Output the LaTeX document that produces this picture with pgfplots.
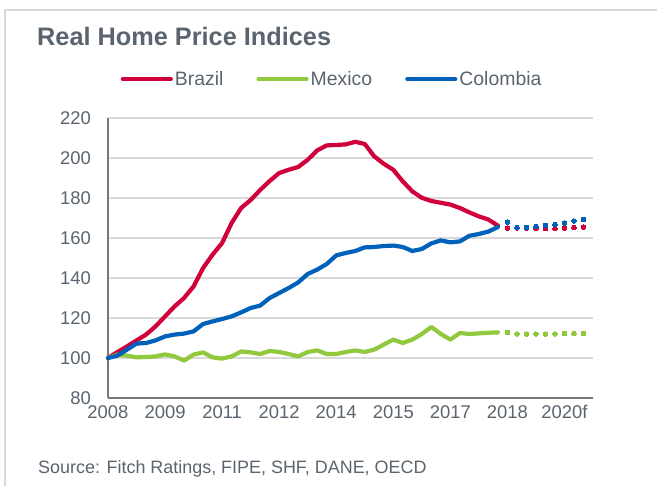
\documentclass[border=0pt]{standalone}
\usepackage{fontspec}
\setmainfont{Liberation Sans}
\usepackage{pgfplots}
\pgfplotsset{compat=1.18}
\definecolor{bred}{RGB}{208,0,58}
\definecolor{mgreen}{RGB}{146,200,62}
\definecolor{cblue}{RGB}{0,97,186}
\definecolor{txt}{RGB}{90,100,110}
\definecolor{gridc}{RGB}{217,217,217}
\definecolor{axc}{RGB}{120,120,120}
\begin{document}
\begin{tikzpicture}[x=1bp,y=1bp]
\path[use as bounding box] (-108,-88) rectangle (549,398);
\draw[gridc, line width=1.5bp] (-103,-88) -- (-103,388) -- (549,388);
\node[anchor=base west, text=txt, font=\fontsize{25.4}{29}\selectfont\bfseries, inner sep=0pt] at (-71,352) {Real Home Price Indices};
\node[anchor=base west, text=txt, font=\fontsize{18}{20}\selectfont, inner sep=0pt] at (-70,-76) {Source: Fitch Ratings, FIPE, SHF, DANE, OECD};
\begin{axis}[
  at={(0,0)}, anchor=south west,
  width=485bp, height=280bp, scale only axis,
  xmin=0, xmax=51, ymin=80, ymax=220,
  xtick={0,6,...,48},
  xticklabels={2008,2009,2011,2012,2014,2015,2017,2018,2020f},
  ytick={80,100,...,220},
  ymajorgrids, grid style={gridc, line width=1.3bp},
  axis x line*=bottom, axis y line*=left,
  x axis line style={-, draw=axc, line width=1.2bp},
  y axis line style={-, draw=axc, line width=1.2bp},
  major tick length=0pt,
  tick label style={text=txt, font=\fontsize{18.5}{20}\selectfont},
  yticklabel style={anchor=east, inner sep=0pt, xshift=-17bp},
  xticklabel style={anchor=north, inner sep=0pt, yshift=-7bp},
  /pgf/number format/assume math mode=true,
  clip=false,
  legend columns=3,
  legend style={at={(0.462,1.139)}, anchor=center, draw=none, fill=none,
    font=\fontsize{19.5}{22}\selectfont, text=txt,
    /tikz/every even column/.append style={column sep=31bp}},
  legend image code/.code={\draw[#1] (0bp,0bp) -- (48bp,0bp);},
  line plot/.style={line width=4.2bp, line join=round, line cap=round},
  fc plot/.style={only marks, mark=*, mark size=2.3bp, mark options={line width=0pt, draw=none, fill=#1}, color=#1, forget plot},
]
\addplot[bred, line plot] table {
x y
0 100
1 103.0
2 105.8
3 108.8
4 111.7
5 115.8
6 120.8
7 125.8
8 130
9 135.8
10 145
11 151.7
12 157.5
13 167.5
14 175
15 179
16 184
17 188.5
18 192.5
19 194.1
20 195.5
21 199.1
22 203.8
23 206.3
24 206.5
25 206.8
26 208.1
27 207
28 200.8
29 197.1
30 194.1
31 188.3
32 183.3
33 180.1
34 178.5
35 177.6
36 176.7
37 175
38 172.8
39 170.8
40 169.2
41 166.2
};
\addlegendentry{Brazil}
\addplot[mgreen, line plot] table {
x y
0 100
1 101.7
2 101.2
3 100.3
4 100.5
5 100.8
6 101.8
7 100.8
8 98.7
9 101.7
10 102.8
11 100.3
12 99.7
13 100.8
14 103.3
15 102.8
16 102
17 103.5
18 103
19 102
20 100.8
21 103
22 103.8
23 102
24 102
25 103
26 103.8
27 103
28 104.2
29 106.7
30 109.2
31 107.5
32 109.2
33 112
34 115.5
35 112
36 109.2
37 112.5
38 112
39 112.3
40 112.6
41 112.8
};
\addlegendentry{Mexico}
\addplot[cblue, line plot] table {
x y
0 100
1 101.2
2 104.2
3 107.2
4 107.5
5 108.8
6 110.8
7 111.7
8 112.2
9 113.3
10 117
11 118.3
12 119.5
13 120.8
14 122.8
15 125
16 126.2
17 130
18 132.5
19 135
20 137.8
21 142
22 144.2
23 147
24 151.3
25 152.5
26 153.5
27 155.3
28 155.5
29 156
30 156.2
31 155.5
32 153.5
33 154.5
34 157.3
35 158.8
36 157.8
37 158.3
38 161.1
39 162
40 163.2
41 165.5
};
\addlegendentry{Colombia}
\addplot[fc plot=bred] table {
x y
42 165
43 165
44 165
45 164.8
46 164.8
47 164.8
48 165
49 165.2
50 165.5
};
\addplot[fc plot=mgreen] table {
x y
42 112.8
43 112
44 112
45 112
46 112
47 112
48 112.2
49 112.3
50 112.3
};
\addplot[fc plot=cblue] table {
x y
42 168
43 165.3
44 165.3
45 165.8
46 166.2
47 166.7
48 167.5
49 168.5
50 169.2
};
\end{axis}
\end{tikzpicture}
\end{document}
